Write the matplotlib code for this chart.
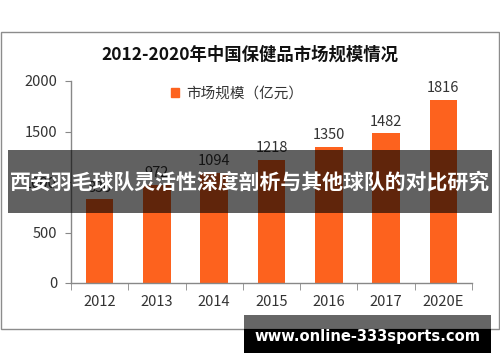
import matplotlib
matplotlib.use("Agg")
import matplotlib.pyplot as plt
from matplotlib.patches import Rectangle, Patch

plt.rcParams['font.family'] = ['Noto Sans CJK SC', 'DejaVu Sans']

categories = ['2012', '2013', '2014', '2015', '2016', '2017', '2020E']
values = [830, 972, 1094, 1218, 1350, 1482, 1816]
yticks = [0, 500, 1000, 1500, 2000]
title = '2012-2020年中国保健品市场规模情况'
legend_label = '市场规模（亿元）'
banner_text = '西安羽毛球队灵活性深度剖析与其他球队的对比研究'
site_text = 'www.online-333sports.com'

W, H = 500, 362
fig = plt.figure(figsize=(W / 100, H / 100), dpi=100)
fig.patch.set_facecolor('white')

def fx(px):
    return px / W

def fy(py):
    return 1 - py / H

ax = fig.add_axes([fx(71), fy(283), fx(472) - fx(71), fy(81) - fy(283)])
bar_color = '#FD621E'
x = list(range(len(categories)))
ax.bar(x, values, width=0.48, color=bar_color, zorder=2, label=legend_label)
for xi, v in zip(x, values):
    ax.text(xi, v + 45, str(v), ha='center', va='bottom', fontsize=10.5, color='#333333')

ax.set_xlim(-0.5, len(categories) - 0.5)
ax.set_ylim(0, 2000)
ax.set_yticks(yticks)
ax.set_yticklabels([str(t) for t in yticks], fontsize=10.5, color='#333333')
ax.set_xticks(x)
ax.set_xticklabels(categories, fontsize=10.5, color='#333333')
ax.set_xticks([i - 0.5 for i in range(len(categories) + 1)], minor=True)
ax.tick_params(axis='x', which='major', length=0, pad=9)
ax.tick_params(axis='x', which='minor', length=5, color='#888888', direction='out')
ax.tick_params(axis='y', length=4, color='#888888', direction='out', pad=6)
for s in ['top', 'right']:
    ax.spines[s].set_visible(False)
for s in ['left', 'bottom']:
    ax.spines[s].set_color('#888888')
    ax.spines[s].set_linewidth(1)
ax.set_facecolor('none')

leg = ax.legend(handles=[Patch(color=bar_color, label=legend_label)], loc='upper left',
                bbox_to_anchor=(fx(188) - fx(71), 1.0), bbox_transform=ax.transAxes,
                frameon=False, fontsize=10.5, handlelength=0.6, handleheight=0.6,
                handletextpad=0.5, borderaxespad=0)
for t in leg.get_texts():
    t.set_color('#333333')

fig.text(fx(250), fy(55), title, ha='center', va='center', fontsize=12.5,
         fontweight='bold', color='#111111')

# chart frame
fig.patches.append(Rectangle((fx(0.5), fy(329)), fx(498.5), fy(31.5) - fy(329),
                             transform=fig.transFigure, fill=False,
                             edgecolor='#8c8c8c', linewidth=1, zorder=5))

# banner overlay
fig.patches.append(Rectangle((fx(8), fy(212.7)), fx(484), fy(150) - fy(212.7),
                             transform=fig.transFigure, facecolor='black', alpha=0.62,
                             edgecolor='none', zorder=10))
fig.text(fx(250), fy(182), banner_text, ha='center', va='center', fontsize=15,
         fontweight='bold', color='white', zorder=11)

# site strip
fig.patches.append(Rectangle((fx(244), fy(329)), fx(247), fy(315) - fy(329),
                             transform=fig.transFigure, facecolor='black', alpha=0.6,
                             edgecolor='none', zorder=10))
fig.patches.append(Rectangle((fx(244), fy(352.7)), fx(247), fy(329) - fy(352.7),
                             transform=fig.transFigure, facecolor='black',
                             edgecolor='none', zorder=10))
fig.text(fx(367), fy(337), site_text, ha='center', va='center', fontsize=10.6,
         fontweight='bold', color='white', family=['DejaVu Sans'], zorder=11)

fig.savefig('out.png', dpi=100)
